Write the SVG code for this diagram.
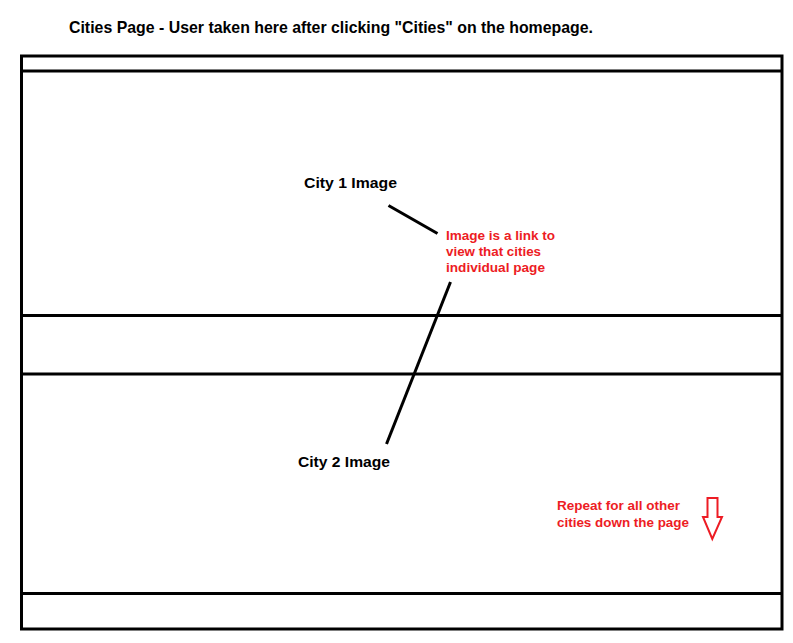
<svg xmlns="http://www.w3.org/2000/svg" width="793" height="643" viewBox="0 0 793 643">
<style>
.frame{fill:none;stroke:#000;stroke-width:3}
.sep{stroke:#000;stroke-width:3}
.conn{stroke:#000;stroke-width:3;fill:none}
.blk{font-family:"Liberation Sans",Arial,sans-serif;font-weight:bold;font-size:14px;fill:#000}
.red{font-family:"Liberation Sans",Arial,sans-serif;font-weight:bold;font-size:12.5px;fill:#ed1c24}
</style>
<rect width="793" height="643" fill="#fff"/>
<g id="title"><text class="blk" x="69" y="32.5" style="font-size:16.5px" textLength="524" lengthAdjust="spacingAndGlyphs">Cities Page - User taken here after clicking "Cities" on the homepage.</text></g>
<g id="page">
<rect class="frame" x="21.5" y="56" width="760.5" height="573"/>
<line class="sep" x1="21.5" y1="71" x2="782" y2="71"/>
<line class="sep" x1="21.5" y1="315.5" x2="782" y2="315.5"/>
<line class="sep" x1="21.5" y1="374" x2="782" y2="374"/>
<line class="sep" x1="21.5" y1="593.5" x2="782" y2="593.5"/>
</g>
<g id="city1"><text class="blk" x="304" y="188" textLength="93" lengthAdjust="spacingAndGlyphs">City 1 Image</text></g>
<g id="city2"><text class="blk" x="298" y="466.5" textLength="92" lengthAdjust="spacingAndGlyphs">City 2 Image</text></g>
<g id="note">
<text class="red" x="446" y="240" textLength="109" lengthAdjust="spacingAndGlyphs">Image is a link to</text>
<text class="red" x="446" y="256" textLength="95" lengthAdjust="spacingAndGlyphs">view that cities</text>
<text class="red" x="446" y="272" textLength="99" lengthAdjust="spacingAndGlyphs">individual page</text>
</g>
<g id="repeat">
<text class="red" x="557" y="510" textLength="123" lengthAdjust="spacingAndGlyphs">Repeat for all other</text>
<text class="red" x="557" y="527" textLength="132" lengthAdjust="spacingAndGlyphs">cities down the page</text>
<polygon points="707.5,498 717.5,498 717.5,517 722,517 712.3,539 703,517 707.5,517" fill="none" stroke="#ed1c24" stroke-width="2"/>
</g>
<g id="connectors">
<line class="conn" x1="388.5" y1="205.5" x2="437.5" y2="233.5"/>
<line class="conn" x1="450.5" y1="282" x2="386.5" y2="444"/>
</g>
</svg>
